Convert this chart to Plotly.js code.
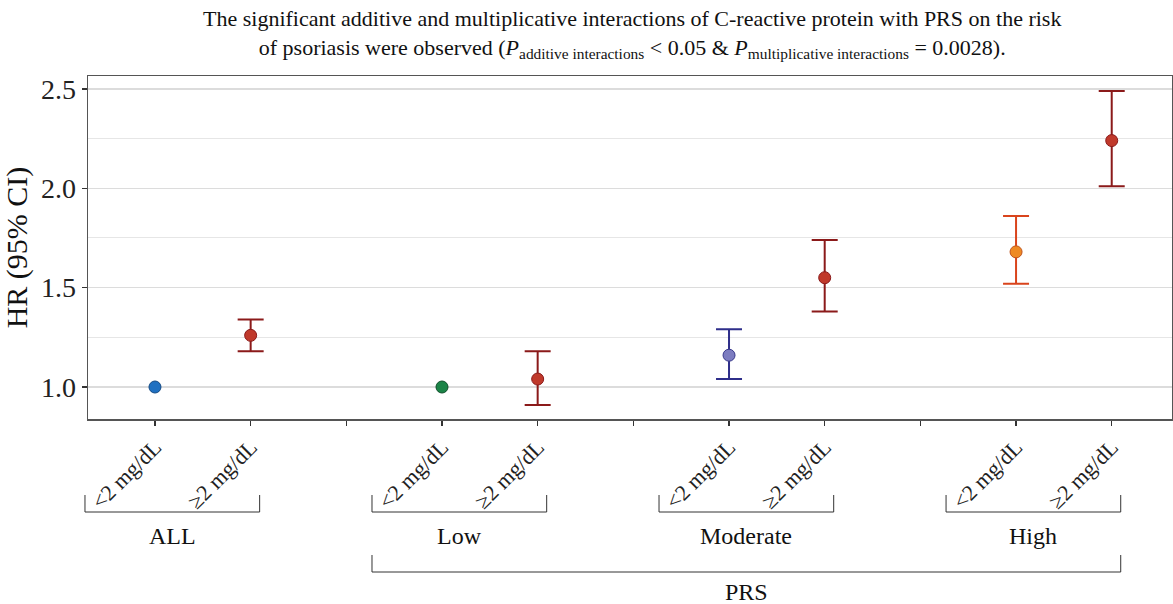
<!DOCTYPE html>
<html>
<head>
<meta charset="utf-8">
<script src="https://cdn.plot.ly/plotly-3.0.1.min.js"></script>
<style>html,body{margin:0;padding:0;background:#fff}#chart{width:1173px;height:604px}</style>
</head>
<body>
<div id="chart"></div>
<script>
// ---- data ----
const positions = [1, 2, 4, 5, 7, 8, 10, 11];
const crpLevels = ["<2 mg/dL", "≥2 mg/dL", "<2 mg/dL", "≥2 mg/dL", "<2 mg/dL", "≥2 mg/dL", "<2 mg/dL", "≥2 mg/dL"];
const hr    = [1.00, 1.26, 1.00, 1.04, 1.16, 1.55, 1.68, 2.24];
const lower = [null, 1.18, null, 0.91, 1.04, 1.38, 1.52, 2.01];
const upper = [null, 1.34, null, 1.18, 1.29, 1.74, 1.86, 2.49];
const groups = ["ALL", "Low", "Moderate", "High"];
const groupPositions = [[1, 2], [4, 5], [7, 8], [10, 11]];
const outerLabel = "PRS";
const titleText = "The significant additive and multiplicative interactions of C-reactive protein with PRS on the risk<br>of psoriasis were observed (<i>P</i><sub>additive interactions</sub> < 0.05 & <i>P</i><sub>multiplicative interactions</sub> = 0.0028).";

// ---- styles ----
const pointColors = ["#1f70c1", "#c0392b", "#1b8447", "#c0392b", "#7c7cc0", "#c0392b", "#ee8a24", "#c0392b"];
const pointEdge   = ["#134a85", "#8b1a1a", "#0f4f2a", "#8b1a1a", "#3a3a8c", "#8b1a1a", "#c0521a", "#8b1a1a"];
const barColors   = ["#134a85", "#8b1a1a", "#0f4f2a", "#8b1a1a", "#2e2e8a", "#8b1a1a", "#d9441c", "#8b1a1a"];

const FONT = "Liberation Serif";
const xr = [0.30, 11.63];
const L = 88, R = 1, T = 76, B = 185, W = 1173, H = 604;
const pw = W - L - R, ph = H - T - B;
const dx2paper = v => (v - xr[0]) / (xr[1] - xr[0]);
const px2paperX = v => (v - L) / pw;
const py2paperY = v => (H - B - v) / ph;
const unit = pw / (xr[1] - xr[0]);

const traces = positions.map((p, i) => {
  const hasCI = lower[i] !== null;
  return {
    type: "scatter", mode: "markers",
    x: [p], y: [hr[i]],
    marker: {size: 12, color: pointColors[i], line: {color: pointEdge[i], width: 1}},
    error_y: hasCI ? {type: "data", symmetric: false, array: [upper[i] - hr[i]], arrayminus: [hr[i] - lower[i]],
      color: barColors[i], thickness: 2, width: 13} : {visible: false},
    showlegend: false, hoverinfo: "y"
  };
});

const tickvals = [], ticktext = [];
for (let v = 1; v <= 11; v++) {
  tickvals.push(v);
  const k = positions.indexOf(v);
  ticktext.push(k >= 0 ? crpLevels[k] : "");
}

const shapes = [], annotations = [];
function bracket(x0, x1, yTop, yBot, label, labelY) {
  const a = dx2paper(x0), b = dx2paper(x1);
  const line = {color: "#333", width: 1};
  shapes.push({type: "line", xref: "paper", yref: "paper", x0: a, x1: a, y0: py2paperY(yTop), y1: py2paperY(yBot), line});
  shapes.push({type: "line", xref: "paper", yref: "paper", x0: b, x1: b, y0: py2paperY(yTop), y1: py2paperY(yBot), line});
  shapes.push({type: "line", xref: "paper", yref: "paper", x0: a, x1: b, y0: py2paperY(yBot), y1: py2paperY(yBot), line});
  annotations.push({xref: "paper", yref: "paper", x: (a + b) / 2, y: py2paperY(labelY), text: label, showarrow: false,
    font: {family: FONT, size: 24, color: "#111"}, xanchor: "center", yanchor: "middle"});
}
const leftPad = 70 / unit, rightPad = 9 / unit;
groups.forEach((g, i) => bracket(groupPositions[i][0] - leftPad, groupPositions[i][1] + rightPad, 495, 512, g, 536));
bracket(groupPositions[1][0] - leftPad, groupPositions[3][1] + rightPad, 555, 572, outerLabel, 592);

annotations.push({xref: "paper", yref: "paper", x: px2paperX(632), y: py2paperY(34), text: titleText, showarrow: false,
  font: {family: FONT, size: 22, color: "#111"}, xanchor: "center", yanchor: "middle", align: "center"});

const layout = {
  width: W, height: H,
  margin: {l: L, r: R, t: T, b: B},
  paper_bgcolor: "#fff", plot_bgcolor: "#fff",
  xaxis: {
    range: xr, tickvals, ticktext, tickangle: -45,
    tickfont: {family: FONT, size: 22, color: "#222"},
    ticks: "outside", ticklen: 5, tickcolor: "#333", tickwidth: 1.5,
    showgrid: false, zeroline: false, showline: true, linecolor: "#555", linewidth: 1.5, mirror: true
  },
  yaxis: {
    range: [0.839, 2.565], tickvals: [1.0, 1.5, 2.0, 2.5], ticktext: ["1.0", "1.5", "2.0", "2.5"],
    tickfont: {family: FONT, size: 28, color: "#222"},
    ticks: "outside", ticklen: 5, tickcolor: "#333", tickwidth: 1.5,
    showgrid: true, gridcolor: "#dcdcdc", gridwidth: 1.5,
    minor: {tickvals: [1.25, 1.75, 2.25], showgrid: true, gridcolor: "#e6e6e6", gridwidth: 1, ticks: ""},
    zeroline: false, showline: true, linecolor: "#555", linewidth: 1.5, mirror: true,
    title: {text: "HR (95% CI)", font: {family: FONT, size: 30, color: "#111"}, standoff: 6}
  },
  shapes, annotations,
  font: {family: FONT}
};

Plotly.newPlot("chart", traces, layout, {displayModeBar: false, staticPlot: true});
</script>
</body>
</html>
